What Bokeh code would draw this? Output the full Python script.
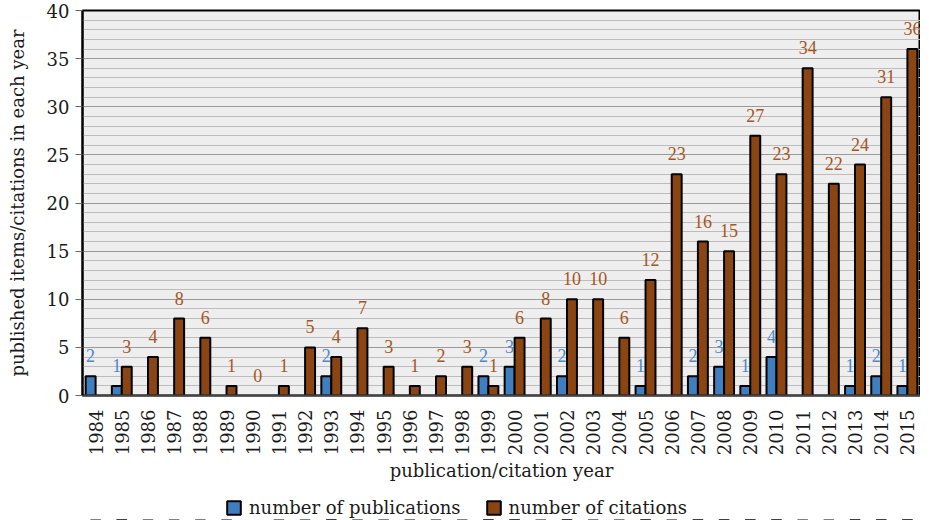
import math
from bokeh.plotting import figure
from bokeh.layouts import column
from bokeh.models import (ColumnDataSource, FactorRange, Range1d, SingleIntervalTicker,
                          Legend, LegendItem, LabelSet)
from bokeh.transform import dodge
from bokeh.embed import file_html
from bokeh.resources import INLINE

years = [str(y) for y in range(1984, 2016)]
publications = [2, 1, 0, 0, 0, 0, 0, 0, 0, 2, 0, 0, 0, 0, 0, 2,
                3, 0, 2, 0, 0, 1, 0, 2, 3, 1, 4, 0, 0, 1, 2, 1]
citations = [None, 3, 4, 8, 6, 1, 0, 1, 5, 4, 7, 3, 1, 2, 3, 1,
             6, 8, 10, 10, 6, 12, 23, 16, 15, 27, 23, 34, 22, 24, 31, 36]
series_names = ["number of publications", "number of citations"]

FONT = "DejaVu Serif"
BLUE = "#3f7fc0"
BROWN = "#8b4513"
BLUE_TXT = "#4a88cc"
BROWN_TXT = "#a5561f"
TXT = "#1a1a1a"

pub_src = ColumnDataSource(dict(
    year=[y for y, v in zip(years, publications) if v],
    val=[v for v in publications if v],
    txt=[str(v) for v in publications if v]))
cit_src = ColumnDataSource(dict(
    year=[y for y, v in zip(years, citations) if v],
    val=[v for v in citations if v],
    ))
cit_lbl = ColumnDataSource(dict(
    year=[y for y, v in zip(years, citations) if v is not None],
    val=[v for v in citations if v is not None],
    txt=[str(v) for v in citations if v is not None]))

p = figure(x_range=FactorRange(*years, range_padding=0), y_range=Range1d(0, 40),
           frame_width=838, frame_height=385, output_backend="svg", toolbar_location=None,
           min_border_left=82, min_border_right=0, min_border_top=10, min_border_bottom=0)

p.background_fill_color = "#edeeed"
p.border_fill_color = "white"
p.outline_line_color = "black"
p.outline_line_width = 2

p.vbar(x=dodge('year', -0.19, range=p.x_range), top='val', width=0.38, source=pub_src,
       fill_color=BLUE, line_color="black", line_width=2)
p.vbar(x=dodge('year', 0.19, range=p.x_range), top='val', width=0.38, source=cit_src,
       fill_color=BROWN, line_color="black", line_width=2)

lab1 = LabelSet(x=dodge('year', -0.19, range=p.x_range), y='val', text='txt', source=pub_src,
                text_align="center", text_baseline="bottom", y_offset=14,
                text_font=FONT, text_font_size="18px", text_color=BLUE_TXT)
lab2 = LabelSet(x=dodge('year', 0.19, range=p.x_range), y='val', text='txt', source=cit_lbl,
                text_align="center", text_baseline="bottom", y_offset=14,
                text_font=FONT, text_font_size="18px", text_color=BROWN_TXT)
p.add_layout(lab1)
p.add_layout(lab2)

# grid
p.xgrid.grid_line_color = None
p.yaxis.ticker = SingleIntervalTicker(interval=5, num_minor_ticks=5)
p.ygrid.grid_line_color = "#999999"
p.ygrid.grid_line_width = 1
p.ygrid.minor_grid_line_color = "#bcbcbc"
p.ygrid.minor_grid_line_width = 1

# y axis
p.yaxis.axis_label = "published items/citations in each year"
p.yaxis.axis_label_text_font = FONT
p.yaxis.axis_label_text_font_style = "normal"
p.yaxis.axis_label_text_font_size = "18px"
p.yaxis.axis_label_text_color = TXT
p.yaxis.axis_label_standoff = 16
p.yaxis.major_label_text_font = FONT
p.yaxis.major_label_text_font_size = "18px"
p.yaxis.major_label_text_color = TXT
p.yaxis.major_label_standoff = 6
p.yaxis.major_tick_out = 7
p.yaxis.major_tick_in = 0
p.yaxis.minor_tick_line_color = None
p.yaxis.major_tick_line_color = "#666666"
p.yaxis.axis_line_color = "black"
p.yaxis.axis_line_width = 2

# x axis
p.xaxis.axis_label = "publication/citation year"
p.xaxis.axis_label_text_font = FONT
p.xaxis.axis_label_text_font_style = "normal"
p.xaxis.axis_label_text_font_size = "18px"
p.xaxis.axis_label_text_color = TXT
p.xaxis.axis_label_standoff = 2
p.xaxis.major_label_text_font = FONT
p.xaxis.major_label_text_font_size = "18px"
p.xaxis.major_label_text_color = TXT
p.xaxis.major_label_orientation = math.pi / 2
p.xaxis.major_label_standoff = 8
p.xaxis.major_tick_line_color = None
p.xaxis.axis_line_color = "#444444"
p.xaxis.axis_line_width = 2

# legend strip below the chart (its bars lie outside its visible range;
# only the legend swatches show)
leg = figure(width=920, height=36, x_range=FactorRange(*years, range_padding=0),
             y_range=Range1d(100, 101),
             x_axis_type=None, y_axis_type=None, output_backend="svg", toolbar_location=None,
             min_border=0)
leg.grid.visible = False
leg.outline_line_color = None
leg.background_fill_color = "white"
leg.border_fill_color = "white"
g1 = leg.vbar(x='year', top='val', width=0.38, source=pub_src,
              fill_color=BLUE, line_color="black", line_width=2)
g2 = leg.vbar(x='year', top='val', width=0.38, source=cit_src,
              fill_color=BROWN, line_color="black", line_width=2)

legend = Legend(items=[LegendItem(label=series_names[0], renderers=[g1]),
                       LegendItem(label=series_names[1], renderers=[g2])],
                orientation="horizontal", location=(143, 2),
                label_text_font=FONT, label_text_font_size="18px", label_text_color=TXT,
                label_standoff=7,
                glyph_width=17, glyph_height=17, spacing=24, padding=0, margin=0,
                border_line_color=None, background_fill_alpha=0)
leg.add_layout(legend, "center")

layout = column(p, leg, spacing=0)
open("out.html", "w").write(file_html(layout, INLINE))
